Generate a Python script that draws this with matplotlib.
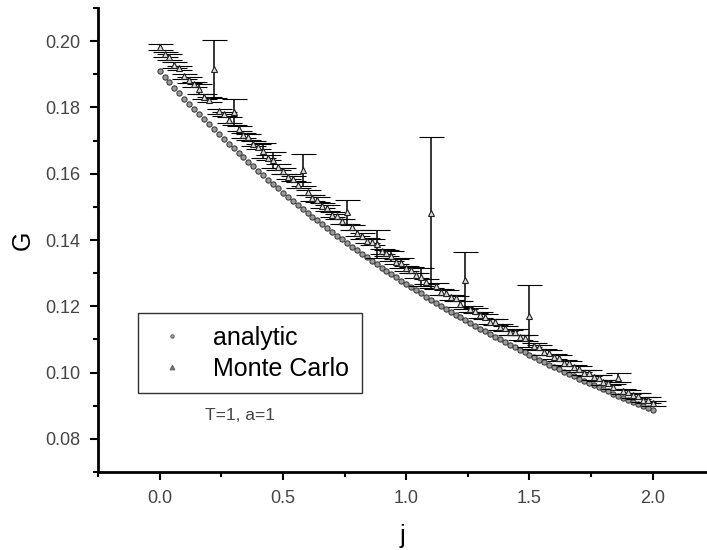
import matplotlib
matplotlib.use("Agg")
import matplotlib.pyplot as plt
from matplotlib.lines import Line2D
from matplotlib.ticker import MultipleLocator, FormatStrFormatter

# j grid (shared by both series)
j_vals = [round(0.02 * i, 2) for i in range(101)]

# analytic G(j)
g_analytic = [
    0.1909, 0.1892, 0.1876, 0.1859, 0.1843, 0.1827, 0.1811, 0.1796, 0.1780, 0.1765,
    0.1750, 0.1735, 0.1721, 0.1706, 0.1691, 0.1677, 0.1663, 0.1649, 0.1635, 0.1622,
    0.1608, 0.1595, 0.1582, 0.1569, 0.1556, 0.1543, 0.1531, 0.1519, 0.1506, 0.1494,
    0.1482, 0.1470, 0.1459, 0.1447, 0.1436, 0.1424, 0.1413, 0.1402, 0.1391, 0.1380,
    0.1369, 0.1358, 0.1348, 0.1337, 0.1327, 0.1316, 0.1306, 0.1296, 0.1287, 0.1277,
    0.1267, 0.1258, 0.1248, 0.1239, 0.1229, 0.1220, 0.1211, 0.1202, 0.1193, 0.1184,
    0.1175, 0.1167, 0.1158, 0.1150, 0.1141, 0.1133, 0.1125, 0.1116, 0.1108, 0.1100,
    0.1092, 0.1084, 0.1077, 0.1069, 0.1062, 0.1054, 0.1047, 0.1039, 0.1032, 0.1024,
    0.1017, 0.1010, 0.1003, 0.0996, 0.0989, 0.0982, 0.0975, 0.0969, 0.0962, 0.0955,
    0.0949, 0.0943, 0.0936, 0.0930, 0.0923, 0.0917, 0.0911, 0.0905, 0.0899, 0.0893,
    0.0887,
]

# Monte Carlo G(j) and its error
g_mc = [
    0.1982, 0.1960, 0.1951, 0.1928, 0.1919, 0.1894, 0.1883, 0.1870, 0.1857, 0.1833,
    0.1823, 0.1917, 0.1788, 0.1780, 0.1761, 0.1787, 0.1736, 0.1716, 0.1711, 0.1691,
    0.1682, 0.1670, 0.1648, 0.1641, 0.1620, 0.1609, 0.1591, 0.1585, 0.1566, 0.1612,
    0.1544, 0.1526, 0.1522, 0.1504, 0.1497, 0.1477, 0.1472, 0.1456, 0.1485, 0.1438,
    0.1421, 0.1413, 0.1398, 0.1394, 0.1388, 0.1366, 0.1361, 0.1352, 0.1335, 0.1331,
    0.1315, 0.1309, 0.1293, 0.1288, 0.1274, 0.1482, 0.1261, 0.1244, 0.1241, 0.1227,
    0.1224, 0.1208, 0.1279, 0.1192, 0.1187, 0.1173, 0.1169, 0.1154, 0.1153, 0.1139,
    0.1134, 0.1121, 0.1122, 0.1106, 0.1103, 0.1170, 0.1080, 0.1076, 0.1062, 0.1060,
    0.1048, 0.1044, 0.1030, 0.1028, 0.1016, 0.1011, 0.1000, 0.0999, 0.0986, 0.0983,
    0.0971, 0.0970, 0.0958, 0.0985, 0.0943, 0.0941, 0.0931, 0.0930, 0.0918, 0.0917,
    0.0907,
]
g_mc_err = [
    0.0008, 0.0007, 0.0009, 0.0008, 0.0007, 0.0008, 0.0009, 0.0008, 0.0015, 0.0008,
    0.0008, 0.0088, 0.0008, 0.0007, 0.0009, 0.0040, 0.0008, 0.0008, 0.0009, 0.0007,
    0.0008, 0.0022, 0.0008, 0.0025, 0.0008, 0.0009, 0.0007, 0.0008, 0.0008, 0.0049,
    0.0008, 0.0009, 0.0007, 0.0008, 0.0008, 0.0009, 0.0008, 0.0007, 0.0036, 0.0008,
    0.0008, 0.0009, 0.0007, 0.0008, 0.0042, 0.0008, 0.0009, 0.0015, 0.0008, 0.0014,
    0.0008, 0.0009, 0.0007, 0.0027, 0.0008, 0.0228, 0.0008, 0.0009, 0.0008, 0.0007,
    0.0008, 0.0009, 0.0086, 0.0008, 0.0008, 0.0009, 0.0007, 0.0008, 0.0008, 0.0009,
    0.0008, 0.0007, 0.0010, 0.0008, 0.0009, 0.0094, 0.0008, 0.0008, 0.0009, 0.0007,
    0.0008, 0.0009, 0.0008, 0.0007, 0.0008, 0.0009, 0.0008, 0.0008, 0.0007, 0.0009,
    0.0008, 0.0008, 0.0009, 0.0013, 0.0008, 0.0007, 0.0008, 0.0009, 0.0008, 0.0008,
    0.0008,
]

plt.rcParams["font.family"] = ["Liberation Sans", "DejaVu Sans"]

fig = plt.figure(figsize=(7.07, 5.5), dpi=100)
ax = fig.add_axes([0.1386, 0.1418, 0.8614, 0.8436])

ax.plot(j_vals, g_analytic, ls="none", marker="o", ms=3.8,
        mfc="#9a9a9a", mec="#303030", mew=0.7, zorder=2)
ax.errorbar(j_vals, g_mc, yerr=g_mc_err, ls="none", marker="^", ms=4.5,
            mfc="#dddddd", mec="#222222", mew=0.8, ecolor="black",
            elinewidth=1.1, capsize=9, capthick=2.8, zorder=3)

ax.set_xlim(-0.25, 2.22)
ax.set_ylim(0.07, 0.21)
ax.xaxis.set_major_locator(MultipleLocator(0.5))
ax.xaxis.set_minor_locator(MultipleLocator(0.25))
ax.yaxis.set_major_locator(MultipleLocator(0.02))
ax.yaxis.set_minor_locator(MultipleLocator(0.01))
ax.xaxis.set_major_formatter(FormatStrFormatter("%.1f"))
ax.yaxis.set_major_formatter(FormatStrFormatter("%.2f"))

for side in ["top", "right"]:
    ax.spines[side].set_visible(False)
for side in ["left", "bottom"]:
    ax.spines[side].set_linewidth(2)

ax.tick_params(which="major", direction="out", length=6, width=1.5,
               labelsize=13, labelcolor="#444444", pad=7)
ax.tick_params(which="minor", direction="out", length=3.5, width=1.5)

ax.set_xlabel("j", fontsize=18, labelpad=12)
ax.set_ylabel("G", fontsize=18, labelpad=7)

handles = [
    Line2D([], [], ls="none", marker="o", ms=2.5, mfc="#999999", mec="#555555", mew=0.6),
    Line2D([], [], ls="none", marker="^", ms=3.5, mfc="#777777", mec="#555555", mew=0.6),
]
leg = ax.legend(handles, ["analytic", "Monte Carlo"], loc="upper left",
                bbox_to_anchor=(138 / 707, 1 - 313 / 550),
                bbox_transform=fig.transFigure, borderaxespad=0,
                fontsize=18, frameon=True, fancybox=False, edgecolor="#333333",
                framealpha=1, handletextpad=0.78, labelspacing=0.28,
                borderpad=0.5, handlelength=1.72)
leg.get_frame().set_linewidth(1.0)

fig.text(240 / 707, 1 - 415 / 550, "T=1, a=1", fontsize=12.5,
         color="#444444", ha="center", va="center")

fig.savefig("out.png", dpi=100)
